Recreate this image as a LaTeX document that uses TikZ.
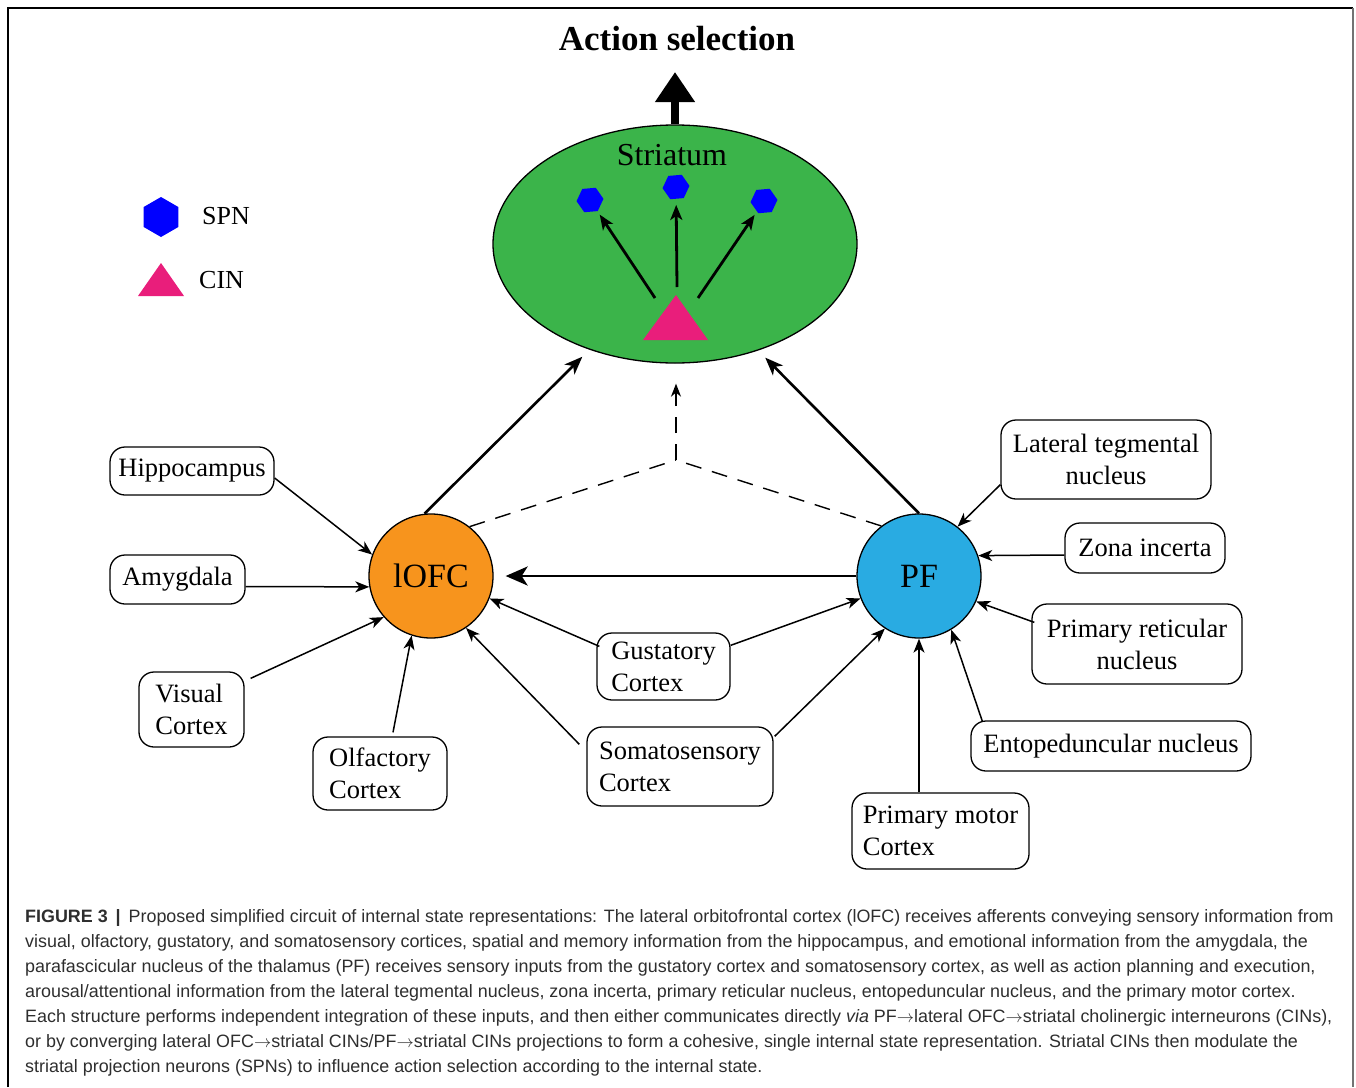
\documentclass[tikz,border=0pt]{standalone}
\usepackage{fontspec}
\setmainfont{Liberation Serif}
\newfontfamily\capfont{Liberation Sans}
\usetikzlibrary{arrows.meta,shapes.geometric}
\definecolor{strgreen}{RGB}{59,180,74}
\definecolor{oforange}{RGB}{247,148,29}
\definecolor{pfblue}{RGB}{41,171,226}
\definecolor{cinpink}{RGB}{233,30,123}
\definecolor{spnblue}{RGB}{0,0,255}
\tikzset{
  boxnode/.style={draw, fill=white, rounded corners=15pt, line width=1.3pt, inner sep=0pt,
    font=\fontsize{26.5pt}{32pt}\selectfont},
  regnode/.style={circle, draw, line width=1.3pt, minimum size=124pt, inner sep=0pt,
    font=\fontsize{34pt}{40pt}\selectfont},
  inarrow/.style={line width=1.5pt, -{Stealth[length=14pt,width=11pt,inset=4pt]}},
  strarrow/.style={line width=2.6pt, -{Stealth[length=18pt,width=14pt,inset=5pt]}},
  hexnode/.style={regular polygon, regular polygon sides=6, fill=spnblue, inner sep=0pt},
  dashline/.style={line width=1.4pt, dash pattern=on 16pt off 11pt},
  capline/.style={anchor=base west, inner sep=0pt, text=black!82,
    font=\capfont\fontsize{17.9pt}{25pt}\selectfont}
}
\begin{document}
\begin{tikzpicture}[x=1pt,y=-1pt]
\useasboundingbox (0,0) rectangle (1356,1087);
% frame
\draw[line width=1.2pt] (8,1087) -- (8,8) -- (1353,8);
\draw[line width=2pt, black!55] (1353,8) -- (1353,1087);

% title
\node[anchor=base, inner sep=0pt, font=\bfseries\fontsize{35pt}{40pt}\selectfont] (title) at (677,50) {Action selection};

% striatum
\node[ellipse, draw, fill=strgreen, line width=1.3pt, minimum width=364pt, minimum height=238pt, inner sep=0pt] (str) at (675,244) {};
\node[anchor=base, inner sep=0pt, font=\fontsize{32pt}{38pt}\selectfont] (strlab) at (672,165) {Striatum};
\coordinate (top) at (675,72);
\draw[line width=8pt, -{Triangle[length=30pt,width=38pt]}] (str.north) -- (top);

% SPNs and CIN inside striatum
\node[hexnode, minimum size=27pt, shape border rotate=5] (h1) at (590,200) {};
\node[hexnode, minimum size=27pt, shape border rotate=5] (h2) at (676,187) {};
\node[hexnode, minimum size=27pt, shape border rotate=5] (h3) at (764,201) {};
\fill[cinpink] (643,340) -- (708,340) -- (676,295) -- cycle;
\coordinate (cL) at (655,298);
\coordinate (cM) at (677,287);
\coordinate (cR) at (698,298);
\draw[line width=2.8pt, -{Stealth[length=15pt,width=12pt,inset=4pt]}, shorten >=4pt] (cL) -- (h1);
\draw[line width=2.8pt, -{Stealth[length=15pt,width=12pt,inset=4pt]}, shorten >=6pt] (cM) -- (h2);
\draw[line width=2.8pt, -{Stealth[length=15pt,width=12pt,inset=4pt]}, shorten >=4pt] (cR) -- (h3);

% legend
\node[hexnode, minimum size=40pt, shape border rotate=30] (lhex) at (161,217) {};
\fill[cinpink] (138,296) -- (184,296) -- (161,263) -- cycle;
\node[anchor=base west, inner sep=0pt, font=\fontsize{26pt}{30pt}\selectfont] (spn) at (202,224) {SPN};
\node[anchor=base west, inner sep=0pt, font=\fontsize{26pt}{30pt}\selectfont] (cin) at (199,288) {CIN};

% regions
\node[regnode, fill=oforange] (lofc) at (431,576) {lOFC};
\node[regnode, fill=pfblue] (pf) at (919,576) {PF};

% input boxes
\node[boxnode, minimum width=164pt, minimum height=48pt] (hip) at (192,471) {Hippocampus};
\node[boxnode, minimum width=135pt, minimum height=49pt] (amy) at (177.5,579.5) {Amygdala};
\node[boxnode, minimum width=105pt, minimum height=75pt, align=left] (vis) at (191.5,709.5) {Visual\\Cortex};
\node[boxnode, minimum width=134pt, minimum height=73pt, align=left] (olf) at (380,773.5) {Olfactory\\Cortex};
\node[boxnode, minimum width=133pt, minimum height=67pt, align=left] (gus) at (663.5,666.5) {Gustatory\\Cortex};
\node[boxnode, minimum width=186pt, minimum height=79pt, align=left] (som) at (680,766.5) {Somatosensory\\Cortex};
\node[boxnode, minimum width=177pt, minimum height=76pt, align=left] (mot) at (940.5,831) {Primary motor\\Cortex};
\node[boxnode, minimum width=280pt, minimum height=50pt] (ento) at (1111,746) {Entopeduncular nucleus};
\node[boxnode, minimum width=210pt, minimum height=80pt, align=center] (ret) at (1137,644) {Primary reticular\\nucleus};
\node[boxnode, minimum width=160pt, minimum height=50pt] (zona) at (1145,548) {Zona incerta};
\node[boxnode, minimum width=210pt, minimum height=79pt, align=center] (lat) at (1106,459.5) {Lateral tegmental\\nucleus};

% inputs to lOFC
\draw[inarrow] ([yshift=-7pt]hip.east) -- (lofc.160);
\draw[inarrow] ([yshift=-7pt]amy.east) -- (lofc.190);
\draw[inarrow] ([shift={(6pt,-7pt)}]vis.north east) -- (lofc.221);
\draw[inarrow] ([shift={(13pt,4pt)}]olf.north) -- (lofc.252);
\draw[inarrow] ([shift={(3pt,-14pt)}]gus.north west) -- (lofc.339);
\draw[inarrow] ([shift={(-7pt,-18pt)}]som.north west) -- (lofc.304);

% inputs to PF
\draw[inarrow] ([shift={(0pt,-13pt)}]gus.north east) -- (pf.201);
\draw[inarrow] ([shift={(1pt,-10pt)}]som.north east) -- (pf.237);
\draw[inarrow] (pf |- mot.north) -- (pf.south);
\draw[inarrow] ([shift={(12pt,-1pt)}]ento.north west) -- (pf.301);
\draw[inarrow] ([shift={(3pt,-19pt)}]ret.north west) -- (pf.336);
\draw[inarrow] ([yshift=-7pt]zona.west) -- (pf.19);
\draw[inarrow] ([shift={(0pt,15pt)}]lat.south west) -- (pf.52);

% outputs to striatum
\draw[strarrow, shorten >=10pt] (lofc.96) -- (str.231);
\draw[strarrow, shorten >=10pt] (pf.90) -- (str.308);
\draw[line width=2.8pt, -{Stealth[length=22pt,width=19pt,inset=6pt]}, shorten >=12pt] (pf.west) -- (lofc.east);

% convergent dashed path
\coordinate (J) at (676,460);
\draw[dashline] (lofc.52) -- (J);
\draw[dashline] (pf.127) -- (J);
\draw[dashline, -{Stealth[length=13pt,width=10pt,inset=4pt]}, shorten >=20pt] (J) -- (J |- str.south);

% caption
\node[capline] (cap1) at (25,922) {\textbf{FIGURE 3} \,\textbf{|}\, Proposed simplified circuit of internal state representations: The lateral orbitofrontal cortex (lOFC) receives afferents conveying sensory information from};
\node[capline] (cap2) at (25,947) {visual, olfactory, gustatory, and somatosensory cortices, spatial and memory information from the hippocampus, and emotional information from the amygdala, the};
\node[capline] (cap3) at (25,972) {parafascicular nucleus of the thalamus (PF) receives sensory inputs from the gustatory cortex and somatosensory cortex, as well as action planning and execution,};
\node[capline] (cap4) at (25,997) {arousal/attentional information from the lateral tegmental nucleus, zona incerta, primary reticular nucleus, entopeduncular nucleus, and the primary motor cortex.};
\node[capline] (cap5) at (25,1022) {Each structure performs independent integration of these inputs, and then either communicates directly \textit{via} PF$\rightarrow$lateral OFC$\rightarrow$striatal cholinergic interneurons (CINs),};
\node[capline] (cap6) at (25,1047) {or by converging lateral OFC$\rightarrow$striatal CINs/PF$\rightarrow$striatal CINs projections to form a cohesive, single internal state representation. Striatal CINs then modulate the};
\node[capline] (cap7) at (25,1072) {striatal projection neurons (SPNs) to influence action selection according to the internal state.};
\end{tikzpicture}
\end{document}
